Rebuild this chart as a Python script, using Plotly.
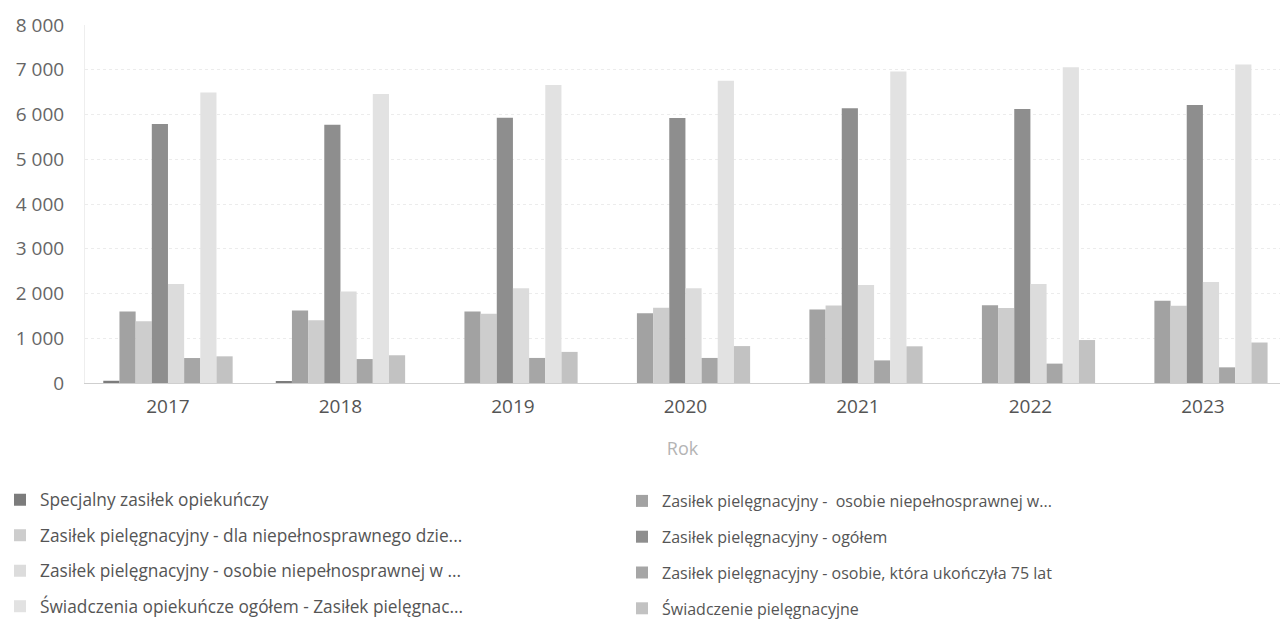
import plotly.graph_objects as go

# Years on the category axis
years = ["2017", "2018", "2019", "2020", "2021", "2022", "2023"]

# Series values (number of benefits per year)
specjalny_zasilek = [50, 40, 0, 0, 0, 0, 0]
zp_osobie_16 = [1600, 1620, 1600, 1560, 1640, 1735, 1840]
zp_dziecko = [1380, 1400, 1550, 1680, 1730, 1675, 1725]
zp_ogolem = [5790, 5770, 5930, 5920, 6140, 6125, 6210]
zp_osobie_w = [2210, 2045, 2120, 2120, 2190, 2210, 2255]
zp_75_lat = [558, 535, 560, 560, 505, 433, 350]
opiekuncze_ogolem = [6490, 6460, 6660, 6755, 6960, 7055, 7120]
swiadczenie_piel = [596, 620, 695, 825, 820, 960, 905]

# Legend labels (truncated as displayed)
names = [
    "Specjalny zasiłek opiekuńczy",
    "Zasiłek pielęgnacyjny -  osobie niepełnosprawnej w...",
    "Zasiłek pielęgnacyjny - dla niepełnosprawnego dzie...",
    "Zasiłek pielęgnacyjny - ogółem",
    "Zasiłek pielęgnacyjny - osobie niepełnosprawnej w ...",
    "Zasiłek pielęgnacyjny - osobie, która ukończyła 75 lat",
    "Świadczenia opiekuńcze ogółem - Zasiłek pielęgnac...",
    "Świadczenie pielęgnacyjne",
]
series = [specjalny_zasilek, zp_osobie_16, zp_dziecko, zp_ogolem,
          zp_osobie_w, zp_75_lat, opiekuncze_ogolem, swiadczenie_piel]
fills = ["#7c7c7c", "#a2a2a2", "#cdcdcd", "#8e8e8e",
         "#dcdcdc", "#a6a6a6", "#e2e2e2", "#c2c2c2"]
# legend column: left column for even index, right for odd
legend_ids = ["legend", "legend2"] * 4

FONT = "Open Sans, Noto Sans, sans-serif"

fig = go.Figure()
for name, vals, fc, lid in zip(names, series, fills, legend_ids):
    fig.add_trace(go.Bar(
        x=years, y=vals, name=name, legend=lid, legendgroup=name,
        marker=dict(color=fc, line=dict(width=0)),
    ))

legend_common = dict(
    xref="container", yref="container", xanchor="left", yanchor="top",
    bgcolor="rgba(0,0,0,0)", traceorder="grouped", orientation="v",
)

fig.update_layout(
    width=1280, height=620,
    margin=dict(l=85, r=0, t=25, b=237, autoexpand=False),
    paper_bgcolor="white", plot_bgcolor="white",
    font=dict(family=FONT, color="#555555"),
    separators=", ",
    barmode="group", bargap=0.25, bargroupgap=0,
    legend=dict(x=0, y=1 - 482 / 620, tracegroupgap=10,
                font=dict(family=FONT, size=17.3, color="#555555"),
                **legend_common),
    legend2=dict(x=622 / 1280, y=1 - 484 / 620, tracegroupgap=12,
                 font=dict(family=FONT, size=16, color="#555555"),
                 **legend_common),
    xaxis=dict(
        type="category", range=[-0.481, 6.447],
        showline=True, linecolor="#cfcfcf", linewidth=1,
        showgrid=False, ticks="",
        tickfont=dict(family=FONT, size=19, color="#555555"),
        ticklabelstandoff=6,
        title=dict(text="Rok", font=dict(family=FONT, size=18, color="#b4b4b4"),
                   standoff=24),
    ),
    yaxis=dict(
        range=[0, 8000], dtick=1000, tickformat=",d",
        showgrid=True, gridcolor="#ececec", griddash="dot", gridwidth=1,
        showline=True, linecolor="#eeeeee", linewidth=1,
        zeroline=False, ticks="",
        tickfont=dict(family=FONT, size=19, color="#666666"),
        ticklabelstandoff=16,
    ),
)

fig.write_html("out.html")
